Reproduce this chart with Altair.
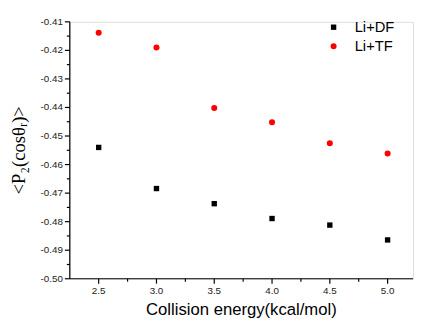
import altair as alt
import pandas as pd

energy = [2.5, 3.0, 3.5, 4.0, 4.5, 5.0]
li_df = [-0.4540, -0.4684, -0.4737, -0.4789, -0.4812, -0.4864]
li_tf = [-0.4138, -0.4190, -0.4402, -0.4452, -0.4525, -0.4561]
series_names = ["Li+DF", "Li+TF"]

x_major = [2.5, 3.0, 3.5, 4.0, 4.5, 5.0]
x_labels = ["2.5", "3.0", "3.5", "4.0", "4.5", "5.0"]
x_minor = [2.75, 3.25, 3.75, 4.25, 4.75]
y_major = [-0.41, -0.42, -0.43, -0.44, -0.45, -0.46, -0.47, -0.48, -0.49, -0.50]
y_labels = ["-0.41", "-0.42", "-0.43", "-0.44", "-0.45", "-0.46", "-0.47", "-0.48", "-0.49", "-0.50"]
y_minor = [-0.415, -0.425, -0.435, -0.445, -0.455, -0.465, -0.475, -0.485, -0.495]
x_title = "Collision energy(kcal/mol)"
y_title = "<P\u2082(cos\u03b8\u1d63)>"

rows = []
for e, v in zip(energy, li_df):
    rows.append({"energy": e, "value": v, "series": series_names[0]})
for e, v in zip(energy, li_tf):
    rows.append({"energy": e, "value": v, "series": series_names[1]})
df = pd.DataFrame(rows)

W, H = 350, 262
x_scale = alt.Scale(domain=[2.25, 5.22], nice=False, zero=False)
y_scale = alt.Scale(domain=[-0.50, -0.41], nice=False, zero=False)

points = alt.Chart(df).mark_point(filled=True, opacity=1, strokeWidth=0).encode(
    x=alt.X("energy:Q", scale=x_scale, axis=None),
    y=alt.Y("value:Q", scale=y_scale, axis=None),
    color=alt.Color("series:N", scale=alt.Scale(domain=series_names, range=["#000000", "#ff0000"]),
                    legend=alt.Legend(
                        title=None, orient="none", legendX=261.5, legendY=-2,
                        symbolSize=25, labelFontSize=15, labelFont="Liberation Sans",
                        labelColor="#000000", labelOffset=14, rowPadding=3.5, padding=0,
                        symbolStrokeWidth=0,
                    )),
    shape=alt.Shape("series:N", scale=alt.Scale(domain=series_names, range=["square", "circle"]),
                    legend=None),
    size=alt.Size("series:N", scale=alt.Scale(domain=series_names, range=[30, 38]), legend=None),
)

one = pd.DataFrame({"a": [0]})

# axis lines
x_line = alt.Chart(one).mark_rule(color="#000000", strokeWidth=1.2).encode(
    x=alt.value(0), x2=alt.value(W), y=alt.value(H)
)
y_line = alt.Chart(one).mark_rule(color="#000000", strokeWidth=1.2).encode(
    x=alt.value(0), y=alt.value(0), y2=alt.value(H)
)

# ticks
x_major_ticks = alt.Chart(pd.DataFrame({"t": x_major})).mark_rule(color="#000000", strokeWidth=1.2).encode(
    x=alt.X("t:Q", scale=x_scale, axis=None), y=alt.value(H), y2=alt.value(H + 5)
)
x_minor_ticks = alt.Chart(pd.DataFrame({"t": x_minor})).mark_rule(color="#000000", strokeWidth=1.2).encode(
    x=alt.X("t:Q", scale=x_scale, axis=None), y=alt.value(H), y2=alt.value(H + 3)
)
y_major_ticks = alt.Chart(pd.DataFrame({"t": y_major})).mark_rule(color="#000000", strokeWidth=1.2).encode(
    y=alt.Y("t:Q", scale=y_scale, axis=None), x=alt.value(-5), x2=alt.value(0)
)
y_minor_ticks = alt.Chart(pd.DataFrame({"t": y_minor})).mark_rule(color="#000000", strokeWidth=1.2).encode(
    y=alt.Y("t:Q", scale=y_scale, axis=None), x=alt.value(-3), x2=alt.value(0)
)

# tick labels
x_tick_labels = alt.Chart(pd.DataFrame({"t": x_major, "lab": x_labels})).mark_text(
    font="Liberation Sans", fontSize=10, color="#222222", baseline="top", align="center"
).encode(x=alt.X("t:Q", scale=x_scale, axis=None), y=alt.value(H + 8), text="lab:N")

y_tick_labels = alt.Chart(pd.DataFrame({"t": y_major, "lab": y_labels})).mark_text(
    font="Liberation Sans", fontSize=10, color="#222222", baseline="middle", align="right"
).encode(y=alt.Y("t:Q", scale=y_scale, axis=None), x=alt.value(-7), text="lab:N")

# axis titles
x_title_mark = alt.Chart(pd.DataFrame({"lab": [x_title]})).mark_text(
    font="Liberation Sans", fontSize=17, color="#000000", baseline="top", align="center"
).encode(x=alt.value(W / 2), y=alt.value(H + 24), text="lab:N")

y_title_mark = alt.Chart(pd.DataFrame({"lab": [y_title]})).mark_text(
    font="Liberation Serif", fontSize=19, color="#000000", baseline="alphabetic", align="center", angle=270
).encode(x=alt.value(-46), y=alt.value(H / 2), text="lab:N")

chart = alt.layer(
    x_line, y_line, x_major_ticks, x_minor_ticks, y_major_ticks, y_minor_ticks,
    x_tick_labels, y_tick_labels, x_title_mark, y_title_mark, points
).properties(
    width=W,
    height=H,
    autosize=alt.AutoSizeParams(type="none"),
    padding={"left": 63, "top": 11, "right": 2, "bottom": 41},
).configure_view(stroke=None).configure(background="white")

chart.save("out.html", embed_options={"renderer": "svg", "actions": False})
